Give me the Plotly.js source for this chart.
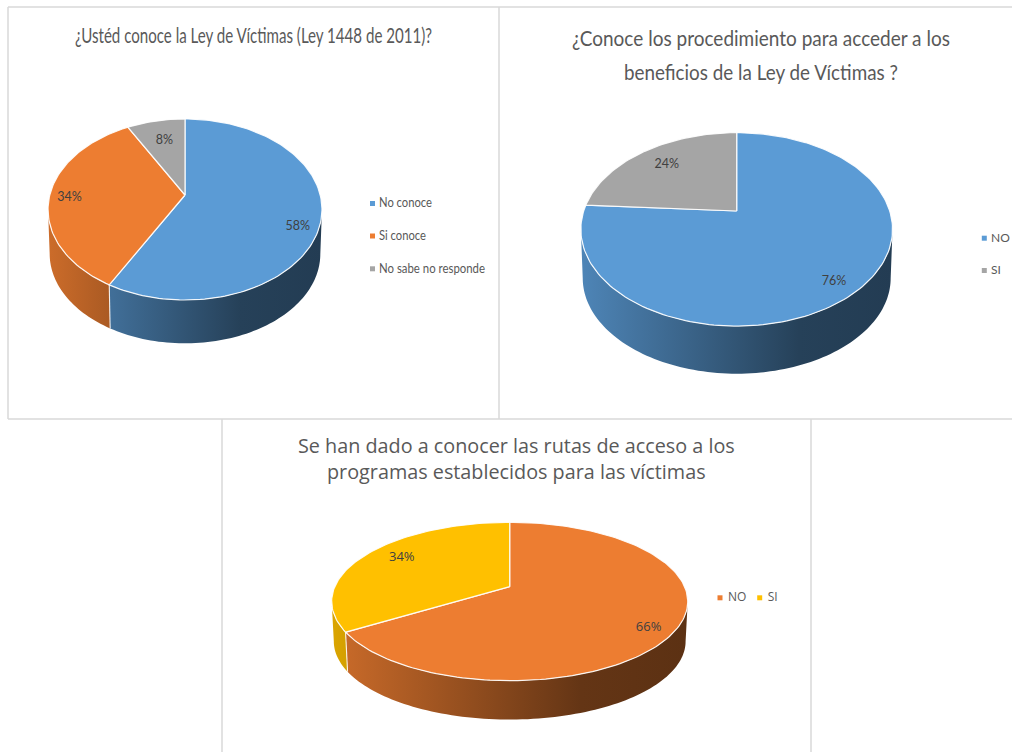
<!DOCTYPE html>
<html><head><meta charset="utf-8">
<script src="https://cdn.plot.ly/plotly-3.0.1.min.js"></script>
<style>html,body{margin:0;padding:0;background:#fff;overflow:hidden}#chart{width:1012px;height:752px}</style>
</head><body><div id="chart"></div>
<script>
// ---- data ----
const leyLabels = ['No conoce', 'Si conoce', 'No sabe no responde'];
const leyValues = [58, 34, 8];
const procLabels = ['NO', 'SI'];
const procValues = [76, 24];
const rutasLabels = ['NO', 'SI'];
const rutasValues = [66, 34];
const leyTitle = ['¿Ustéd conoce la Ley de Víctimas (Ley 1448 de 2011)?'];
const procTitle = ['¿Conoce los procedimiento para acceder a los', 'beneficios de la Ley de Víctimas ?'];
const rutasTitle = ['Se han dado a conocer las rutas de acceso a los', 'programas establecidos para las víctimas'];

// ---- styling and layout ----
const BLUE = '#5b9bd5', ORANGE = '#ed7d31', GREY = '#a5a5a5', YELLOW = '#ffc000';
const W = 1012, H = 752;
const charts = [
  { labels: leyLabels, values: leyValues, title: leyTitle, colors: [BLUE, ORANGE, GREY],
    panel: [8, 7, 499, 419], cx: 185, cy: 195, A: 135.2, C: 88.2, k: 0.16, depth: 44.6, halfW: 137,
    titleX: 253.5, titleY: [35], titleFont: {family: 'Lato', size: 20.5},
    pctPos: [[297.7, 226], [69.5, 197], [164.5, 140]],
    pctFont: {family: 'Lato', size: 12.5},
    legPos: [[372.5, 203], [372.5, 235.5], [372.5, 268.3]], legTextX: 379,
    legFont: {family: 'Lato', size: 13} },
  { labels: procLabels, values: procValues, title: procTitle, colors: [BLUE, GREY],
    panel: [499, 7, 1012, 419], cx: 736.7, cy: 211, A: 153, C: 93.2, k: 0.19, depth: 49, halfW: 155.85,
    titleX: 761, titleY: [38, 72], titleFont: {family: 'Lato', size: 22},
    pctPos: [[834, 281], [666.7, 164]],
    pctFont: {family: 'Lato', size: 12.5},
    legPos: [[984.3, 237.7], [984.3, 270]], legTextX: 991,
    legFont: {family: 'Lato', size: 12} },
  { labels: rutasLabels, values: rutasValues, title: rutasTitle, colors: [ORANGE, YELLOW],
    panel: [222, 420, 811, 752], cx: 509.7, cy: 586.7, A: 174.9, C: 76.4, k: 0.187, depth: 40, halfW: 178,
    titleX: 516, titleY: [446, 472], titleFont: {family: 'Open Sans', size: 19.8},
    pctPos: [[648.6, 627], [401.8, 557]],
    pctFont: {family: 'Open Sans', size: 13},
    legPos: [[720, 597.3], [759.7, 597.3]], legTextDx: 8,
    legFont: {family: 'Open Sans', size: 12} }
];
// rendered widths (px) of the condensed text in the first two panels
const condensedWidths = {
  '¿Ustéd conoce la Ley de Víctimas (Ley 1448 de 2011)?': 357,
  '¿Conoce los procedimiento para acceder a los': 378,
  'beneficios de la Ley de Víctimas ?': 274,
  'No conoce': 53, 'Si conoce': 47, 'No sabe no responde': 106
};
const TEXT = '#595959', PCT = '#404040', SIDE_SCALE = 0.988, TEXT_DY = 1;

function shade(hex, f) {
  const n = parseInt(hex.slice(1), 16);
  return 'rgb(' + [n >> 16, (n >> 8) & 255, n & 255].map(c => Math.round(c * f)).join(',') + ')';
}
// projection of a pie angle (degrees clockwise from the top) on the tilted disc
function project(c, deg, lower) {
  const t = deg * Math.PI / 180, u = Math.sin(t), v = Math.cos(t), d = 1 + c.k * v;
  const s = lower ? SIDE_SCALE : 1;
  return [c.cx + s * c.A * u / d, c.cy + (lower ? c.depth : 0) - s * c.C * v / d];
}
function arc(c, a, b, lower) {
  const pts = [], n = Math.max(2, Math.ceil(Math.abs(b - a) / 1.5));
  for (let i = 0; i <= n; i++) pts.push(project(c, a + (b - a) * i / n, lower));
  return pts;
}

const traces = [], annotations = [], shapes = [];
const layout = {
  width: W, height: H, margin: {l: 0, r: 0, t: 0, b: 0, pad: 0},
  paper_bgcolor: '#ffffff', plot_bgcolor: 'rgba(0,0,0,0)',
  showlegend: false, hovermode: false, annotations, shapes
};

charts.forEach((c, idx) => {
  const sfx = idx === 0 ? '' : String(idx + 1);
  const xa = 'x' + sfx, ya = 'y' + sfx;
  const [x0, y0, x1, y1] = c.panel;
  layout['xaxis' + sfx] = {domain: [x0 / W, x1 / W], range: [x0, x1], visible: false, fixedrange: true, anchor: ya};
  layout['yaxis' + sfx] = {domain: [1 - y1 / H, 1 - y0 / H], range: [y1, y0], visible: false, fixedrange: true, anchor: xa};

  const total = c.values.reduce((a, b) => a + b, 0);
  const edgeA = Math.acos(-c.k) * 180 / Math.PI, edgeB = 360 - edgeA;
  let acc = 0;
  const slices = c.values.map(v => { const s = {a: acc / total * 360}; acc += v; s.b = acc / total * 360; return s; });

  // side walls
  slices.forEach((s, i) => {
    const a = Math.max(s.a, edgeA), b = Math.min(s.b, edgeB);
    if (b <= a) return;
    const pts = arc(c, a, b, false).concat(arc(c, b, a, true));
    pts.push(pts[0]);
    traces.push({
      type: 'scatter', mode: 'none', xaxis: xa, yaxis: ya,
      x: pts.map(p => p[0]), y: pts.map(p => p[1]), fill: 'toself',
      fillgradient: {type: 'horizontal', start: c.cx - c.halfW, stop: c.cx + c.halfW,
        colorscale: [[0, shade(c.colors[i], 0.86)], [0.7, shade(c.colors[i], 0.42)], [1, shade(c.colors[i], 0.39)]]}
    });
  });
  // seams on the wall
  slices.forEach(s => {
    if (s.a > edgeA && s.a < edgeB) {
      const p = project(c, s.a, false), q = project(c, s.a, true);
      traces.push({type: 'scatter', mode: 'lines', xaxis: xa, yaxis: ya, x: [p[0], q[0]], y: [p[1], q[1]],
        line: {color: 'rgba(255,255,255,0.85)', width: 1.1}});
    }
  });
  // top faces
  slices.forEach((s, i) => {
    const pts = [[c.cx, c.cy]].concat(arc(c, s.a, s.b, false));
    pts.push([c.cx, c.cy]);
    traces.push({
      type: 'scatter', mode: 'lines', xaxis: xa, yaxis: ya,
      x: pts.map(p => p[0]), y: pts.map(p => p[1]), fill: 'toself', fillcolor: c.colors[i],
      line: {color: 'rgba(255,255,255,0.9)', width: 1.2}
    });
  });
  // percentage labels
  traces.push({
    type: 'scatter', mode: 'text', xaxis: xa, yaxis: ya, cliponaxis: false,
    x: c.pctPos.map(p => p[0]), y: c.pctPos.map(p => p[1] + TEXT_DY),
    text: c.values.map(v => Math.round(v / total * 100) + '%'),
    textposition: 'middle center', textfont: Object.assign({color: PCT}, c.pctFont)
  });
  // legend: swatches, then their labels
  traces.push({
    type: 'scatter', mode: 'markers', xaxis: xa, yaxis: ya, cliponaxis: false,
    x: c.legPos.map(p => p[0]), y: c.legPos.map(p => p[1] + 0.5),
    marker: {symbol: 'square', size: 5, color: c.colors}
  });
  traces.push({
    type: 'scatter', mode: 'text', xaxis: xa, yaxis: ya, cliponaxis: false,
    x: c.legPos.map(p => c.legTextX !== undefined ? c.legTextX : p[0] + c.legTextDx),
    y: c.legPos.map(p => p[1] + TEXT_DY), text: c.labels, textposition: 'middle right',
    textfont: Object.assign({color: TEXT}, c.legFont)
  });
  // title
  c.title.forEach((line, i) => {
    annotations.push({xref: xa, yref: ya, x: c.titleX, y: c.titleY[i], text: line, showarrow: false,
      xanchor: 'center', yanchor: 'middle', font: Object.assign({color: TEXT}, c.titleFont)});
  });
});

// panel frames
const frame = (x0, y0, x1, y1) => shapes.push({type: 'line', xref: 'paper', yref: 'paper',
  x0: x0 / W, x1: x1 / W, y0: 1 - y0 / H, y1: 1 - y1 / H, line: {color: '#d9d9d9', width: 1.5}});
frame(8, 7, 1012, 7); frame(8, 7, 8, 419); frame(8, 419, 1012, 419); frame(499, 7, 499, 419);
frame(222, 419, 222, 752); frame(811, 419, 811, 752);

Plotly.newPlot('chart', traces, layout, {displayModeBar: false, staticPlot: true}).then(gd => {
  // the reference's first two panels use a condensed face: narrow the real text to the same width
  gd.querySelectorAll('svg text').forEach(t => {
    const w = condensedWidths[t.textContent];
    if (w) { t.setAttribute('textLength', w); t.setAttribute('lengthAdjust', 'spacingAndGlyphs'); }
  });
});
</script></body></html>
